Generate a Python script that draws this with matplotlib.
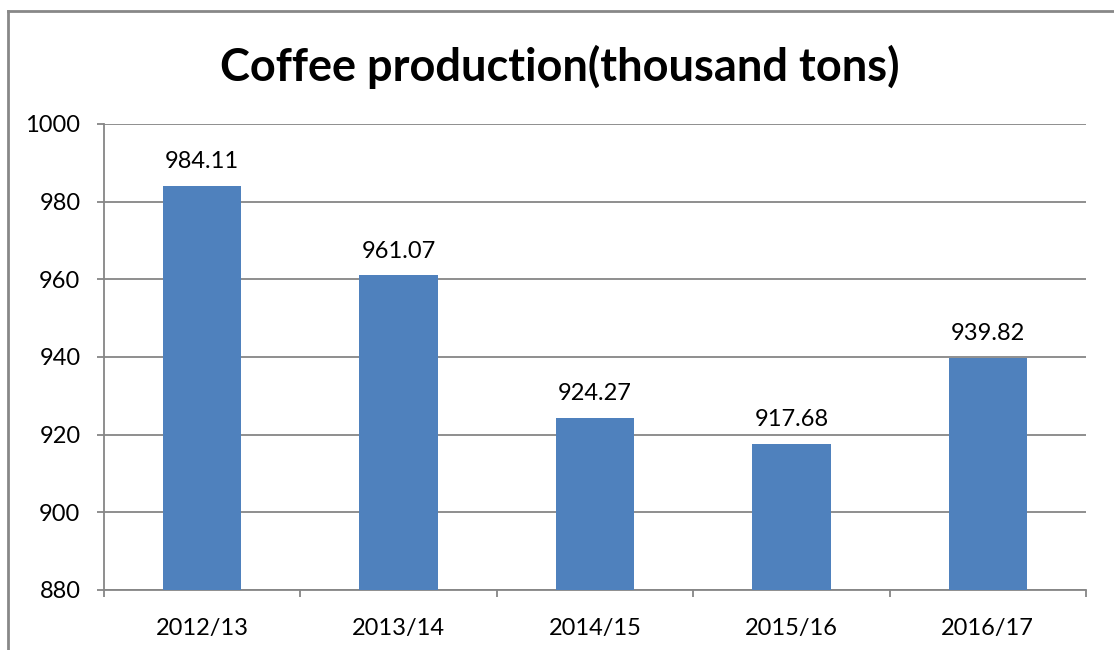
import matplotlib
matplotlib.use('Agg')
import matplotlib.pyplot as plt
from matplotlib.lines import Line2D

seasons = ['2012/13', '2013/14', '2014/15', '2015/16', '2016/17']
production = [984.11, 961.07, 924.27, 917.68, 939.82]
yticks = [880, 900, 920, 940, 960, 980, 1000]

plt.rcParams['font.family'] = ['Lato', 'DejaVu Sans']

fig = plt.figure(figsize=(11.14, 6.5), dpi=100)
ax = fig.add_axes([104/1114, 60/650, 982/1114, 466/650])

xs = range(len(seasons))
ax.bar(xs, production, width=0.4, color='#4F81BD', zorder=3)
for x, v in zip(xs, production):
    ax.text(x, v + 3.5, '%.2f' % v, ha='center', va='bottom', fontsize=17)

ax.set_xlim(-0.5, len(seasons) - 0.5)
ax.set_ylim(880, 1000)
ax.set_yticks(yticks)
ax.set_xticks(list(xs))
ax.set_xticklabels(seasons)
ax.set_xticks([i - 0.5 for i in range(len(seasons) + 1)], minor=True)
ax.tick_params(axis='x', which='major', length=0, pad=20, labelsize=17)
ax.tick_params(axis='x', which='minor', length=5, color='#868686', width=1.3)
ax.tick_params(axis='y', length=5, color='#868686', width=1.3, pad=12, labelsize=17)
ax.grid(axis='y', color='#868686', linewidth=1.3, zorder=0)
for s in ['top', 'right']:
    ax.spines[s].set_visible(False)
for s in ['left', 'bottom']:
    ax.spines[s].set_color('#868686')
    ax.spines[s].set_linewidth(1.3)

fig.text(560/1114, 1 - 67/650, 'Coffee production(thousand tons)', ha='center', va='center',
         fontsize=32.5, fontweight='bold')

# chart border (right and bottom edges cut off in the original)
fig.add_artist(Line2D([8/1114, 8/1114], [0, 1 - 11/650], color='#888888', lw=2))
fig.add_artist(Line2D([8/1114, 1], [1 - 11/650, 1 - 11/650], color='#888888', lw=2))

fig.savefig('out.png', dpi=100)
